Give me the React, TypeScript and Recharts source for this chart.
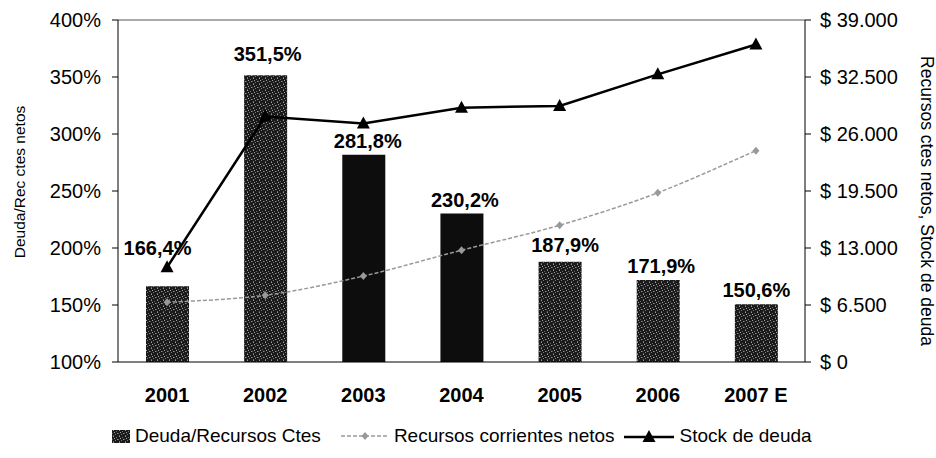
import React from 'react';
import { ComposedChart, Bar, Line, XAxis, YAxis, Cell, LabelList, Label, Legend, ReferenceLine } from 'recharts';

const years = ['2001', '2002', '2003', '2004', '2005', '2006', '2007 E'];
const deudaRecursos = [166.4, 351.5, 281.8, 230.2, 187.9, 171.9, 150.6];
const recursosNetos = [6800, 7600, 9800, 12750, 15600, 19300, 24100];
const stockDeuda = [10800, 28000, 27200, 29000, 29200, 32800, 36200];
const leftTicks = [100, 150, 200, 250, 300, 350, 400];
const rightTicks = [0, 6500, 13000, 19500, 26000, 32500, 39000];

const data = years.map((y, i) => ({
  year: y,
  deuda: deudaRecursos[i],
  recursos: recursosNetos[i],
  stock: stockDeuda[i],
}));

// styling only
const barFills = ['url(#speckle)', 'url(#speckle)', '#0d0d0d', '#0d0d0d', 'url(#speckle)', 'url(#speckle)', 'url(#speckle)'];
const labelLift = [24, 7, 0, 0, 3, 0, 0];
const labelShift = [-10, 2, 4, 3, 5, 3, 0];

const FONT = '"Liberation Sans", Arial, sans-serif';

const fmtPct = (v: number) => v.toFixed(1).replace('.', ',') + '%';
const fmtMoney = (v: number) =>
  v === 0 ? '$ 0' : '$ ' + String(v).replace(/\B(?=(\d{3})+(?!\d))/g, '.');

// Catmull-Rom style smoothing (like spreadsheet "smoothed line")
const smoothCurve = (context: any) => {
  let pts: [number, number][] = [];
  return {
    areaStart() {},
    areaEnd() {},
    lineStart() {
      pts = [];
    },
    point(x: number, y: number) {
      pts.push([+x, +y]);
    },
    lineEnd() {
      if (!pts.length) return;
      context.moveTo(pts[0][0], pts[0][1]);
      for (let i = 0; i < pts.length - 1; i++) {
        const p0 = pts[i - 1] || pts[i];
        const p1 = pts[i];
        const p2 = pts[i + 1];
        const p3 = pts[i + 2] || pts[i + 1];
        const c1x = p1[0] + (p2[0] - p0[0]) / 6;
        const c1y = p1[1] + (p2[1] - p0[1]) / 6;
        const c2x = p2[0] - (p3[0] - p1[0]) / 6;
        const c2y = p2[1] - (p3[1] - p1[1]) / 6;
        context.bezierCurveTo(c1x, c1y, c2x, c2y, p2[0], p2[1]);
      }
    },
  };
};

const BarLabel = (props: any) => {
  const { x, y, width, value, index } = props;
  const cx = Number(x) + Number(width) / 2 + (labelShift[index] || 0);
  const by = Number(y) - 7 - (labelLift[index] || 0);
  return (
    <text x={cx} y={by} textAnchor="middle" fontFamily={FONT} fontWeight="bold" fontSize={20} fill="#000">
      {fmtPct(Number(value))}
    </text>
  );
};

const TriangleDot = (props: any) => {
  const { cx, cy, index } = props;
  if (cx == null || cy == null) return <g key={`t${index}`} />;
  return (
    <polygon
      key={`t${index}`}
      points={`${cx},${cy - 7} ${cx - 6.5},${cy + 5} ${cx + 6.5},${cy + 5}`}
      fill="#000"
    />
  );
};

const DiamondDot = (props: any) => {
  const { cx, cy, index } = props;
  if (cx == null || cy == null) return <g key={`d${index}`} />;
  return (
    <polygon
      key={`d${index}`}
      points={`${cx},${cy - 4} ${cx - 3.5},${cy} ${cx},${cy + 4} ${cx + 3.5},${cy}`}
      fill="#999"
    />
  );
};

const CustomLegend = () => (
  <div
    style={{
      display: 'flex',
      alignItems: 'center',
      height: 30,
      paddingLeft: 112,
      fontFamily: FONT,
      fontSize: 19,
      color: '#000',
      whiteSpace: 'nowrap',
    }}
  >
    <svg width={18} height={13} style={{ marginRight: 5 }}>
      <rect x={0} y={0} width={18} height={13} fill="url(#speckle)" />
    </svg>
    <span>Deuda/Recursos Ctes</span>
    <svg width={48} height={14} style={{ marginLeft: 20, marginRight: 5 }}>
      <line x1={0} y1={7} x2={48} y2={7} stroke="#999" strokeWidth={1.5} strokeDasharray="4 2" />
      <polygon points="24,3 20.5,7 24,11 27.5,7" fill="#999" />
    </svg>
    <span>Recursos corrientes netos</span>
    <svg width={50} height={14} style={{ marginLeft: 9, marginRight: 6 }}>
      <line x1={0} y1={8} x2={50} y2={8} stroke="#000" strokeWidth={2.5} />
      <polygon points="25,1 18.5,13 31.5,13" fill="#000" />
    </svg>
    <span>Stock de deuda</span>
  </div>
);

export default function App() {
  return (
    <div style={{ position: 'absolute', left: 0, top: 0, width: 936, height: 458, background: '#fff' }}>
      <ComposedChart
        width={936}
        height={458}
        data={data}
        margin={{ top: 20, right: 0, left: 0, bottom: 7 }}
        barCategoryGap={0}
      >
        <defs>
          <pattern id="speckle" width={6} height={6} patternUnits="userSpaceOnUse">
            <rect x={0} y={0} width={6} height={6} fill="#1a1a1a" />
            <rect x={1} y={0} width={1} height={1} fill="#9a9a9a" />
            <rect x={4} y={1} width={1} height={1} fill="#6a6a6a" />
            <rect x={2} y={2} width={1} height={1} fill="#a8a8a8" />
            <rect x={0} y={3} width={1} height={1} fill="#5a5a5a" />
            <rect x={5} y={3} width={1} height={1} fill="#909090" />
            <rect x={3} y={4} width={1} height={1} fill="#7a7a7a" />
            <rect x={1} y={5} width={1} height={1} fill="#666" />
          </pattern>
        </defs>
        <XAxis
          dataKey="year"
          height={59}
          tickLine={false}
          tickSize={0}
          tickMargin={26}
          axisLine={{ stroke: '#000', strokeWidth: 1 }}
          tick={{ fontFamily: FONT, fontSize: 20, fontWeight: 'bold', fill: '#000' }}
          interval={0}
        />
        <YAxis
          yAxisId="left"
          orientation="left"
          width={118}
          domain={[100, 400]}
          ticks={leftTicks}
          allowDataOverflow
          tickFormatter={(v: number) => `${v}%`}
          tickSize={6}
          tickMargin={11}
          axisLine={{ stroke: '#000' }}
          tickLine={{ stroke: '#000' }}
          tick={{ fontFamily: FONT, fontSize: 20, fill: '#000' }}
        >
          <Label
            content={() => (
              <text
                x={19}
                y={182}
                transform="rotate(-90 19 182)"
                textAnchor="middle"
                dominantBaseline="central"
                fontFamily={FONT}
                fontSize={15.5}
                fill="#000"
              >
                Deuda/Rec ctes netos
              </text>
            )}
          />
        </YAxis>
        <YAxis
          yAxisId="right"
          orientation="right"
          width={131}
          domain={[0, 39000]}
          ticks={rightTicks}
          allowDataOverflow
          tickFormatter={fmtMoney}
          tickSize={6}
          tickMargin={9}
          axisLine={{ stroke: '#000' }}
          tickLine={{ stroke: '#000' }}
          tick={{ fontFamily: FONT, fontSize: 20, fill: '#000' }}
        >
          <Label
            content={() => (
              <text
                x={927}
                y={201}
                transform="rotate(90 927 201)"
                textAnchor="middle"
                dominantBaseline="central"
                fontFamily={FONT}
                fontSize={17.5}
                fill="#000"
              >
                Recursos ctes netos, Stock de deuda
              </text>
            )}
          />
        </YAxis>
        <ReferenceLine yAxisId="left" y={400} stroke="#555" strokeWidth={1} />
        <Legend verticalAlign="bottom" content={<CustomLegend />} />
        <Line
          yAxisId="right"
          dataKey="recursos"
          type={smoothCurve as any}
          stroke="#999"
          strokeWidth={1.5}
          strokeDasharray="4 2"
          dot={DiamondDot}
          isAnimationActive={false}
        />
        <Line
          yAxisId="right"
          dataKey="stock"
          type="linear"
          stroke="#000"
          strokeWidth={2.5}
          dot={TriangleDot}
          isAnimationActive={false}
        />
        <Bar yAxisId="left" dataKey="deuda" barSize={43} isAnimationActive={false}>
          {data.map((_, i) => (
            <Cell key={`c${i}`} fill={barFills[i]} />
          ))}
          <LabelList dataKey="deuda" content={BarLabel} />
        </Bar>
      </ComposedChart>
    </div>
  );
}
